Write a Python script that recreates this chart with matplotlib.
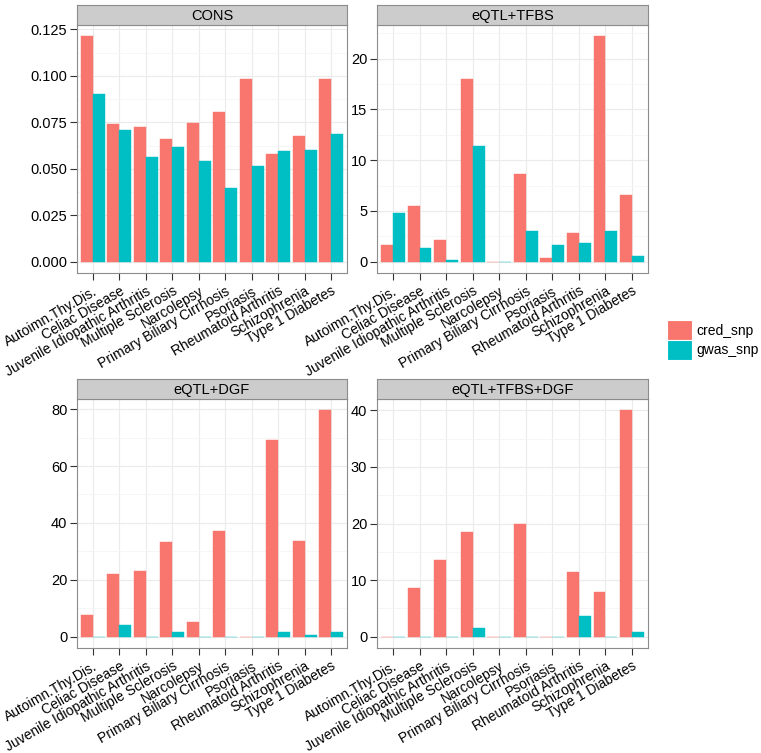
import matplotlib
matplotlib.use("Agg")
import matplotlib.pyplot as plt
import matplotlib.transforms as mtransforms
import numpy as np
from matplotlib.ticker import MultipleLocator
from matplotlib.patches import Patch

plt.rcParams['font.family'] = ['Liberation Sans', 'DejaVu Sans']

diseases = ["Autoimn.Thy.Dis.", "Celiac Disease", "Juvenile Idiopathic Arthritis",
            "Multiple Sclerosis", "Narcolepsy", "Primary Biliary Cirrhosis",
            "Psoriasis", "Rheumatoid Arthritis", "Schizophrenia", "Type 1 Diabetes"]
series = ["cred_snp", "gwas_snp"]
colors = ["#F8766D", "#00BFC4"]

cons_cred = [0.1213, 0.0739, 0.0723, 0.0662, 0.0744, 0.0807, 0.0983, 0.0577, 0.0678, 0.0985]
cons_gwas = [0.0905, 0.0709, 0.0561, 0.0618, 0.0543, 0.0397, 0.0516, 0.0598, 0.0602, 0.0689]

tfbs_cred = [1.67, 5.52, 2.12, 18.0, 0.0, 8.6, 0.36, 2.84, 22.2, 6.6]
tfbs_gwas = [4.84, 1.37, 0.13, 11.44, 0.0, 3.0, 1.6, 1.8, 3.0, 0.52]

dgf_cred = [7.7, 22.0, 23.2, 33.3, 5.3, 37.2, 0.0, 69.0, 33.6, 79.6]
dgf_gwas = [0.0, 4.1, 0.0, 1.5, 0.0, 0.0, 0.0, 1.5, 0.5, 1.6]

all_cred = [0.0, 8.66, 13.6, 18.56, 0.0, 19.9, 0.0, 11.5, 7.96, 40.0]
all_gwas = [0.0, 0.0, 0.0, 1.55, 0.0, 0.0, 0.0, 3.65, 0.0, 0.85]

panels = [
    ("CONS", cons_cred, cons_gwas, 0.025, "%.3f"),
    ("eQTL+TFBS", tfbs_cred, tfbs_gwas, 5, "%d"),
    ("eQTL+DGF", dgf_cred, dgf_gwas, 20, "%d"),
    ("eQTL+TFBS+DGF", all_cred, all_gwas, 10, "%d"),
]

W, H = 761, 753
fig = plt.figure(figsize=(W / 100, H / 100), dpi=100)

# pixel boxes: (x0, x1, strip_top, plot_top, plot_bottom)
boxes = [
    (77, 347, 5, 25, 273),
    (377, 648, 5, 25, 273),
    (77, 347, 379, 399, 648),
    (377, 648, 379, 399, 648),
]

border = "#8C8C8C"
x = np.arange(1, len(diseases) + 1)
bw = 0.45
shift = mtransforms.ScaledTranslation(5 / 100, -3 / 100, fig.dpi_scale_trans)

for (title, cred, gwas, step, fmt), (x0, x1, st, pt, pb) in zip(panels, boxes):
    ax = fig.add_axes([x0 / W, (H - pb) / H, (x1 - x0) / W, (pb - pt) / H])
    sax = fig.add_axes([x0 / W, (H - pt) / H, (x1 - x0) / W, (pt - st) / H])
    sax.set_facecolor("#CCCCCC")
    sax.set_xticks([]); sax.set_yticks([])
    for s in sax.spines.values():
        s.set_color(border); s.set_linewidth(0.8)
    sax.text(0.5, 0.45, title, ha="center", va="center", fontsize=10.5, transform=sax.transAxes)

    for i, vals in enumerate([cred, gwas]):
        ax.bar(x + (i - 0.5) * bw, vals, width=bw, color=colors[i],
               edgecolor=colors[i], linewidth=0.3, zorder=2,
               label=series[i])

    mx = max(max(cred), max(gwas))
    ax.set_ylim(-0.05 * mx, 1.05 * mx)
    ax.set_xlim(0.4, len(diseases) + 0.6)
    ax.yaxis.set_major_locator(MultipleLocator(step))
    ax.yaxis.set_minor_locator(MultipleLocator(step / 2))
    ax.yaxis.set_major_formatter(matplotlib.ticker.FormatStrFormatter(fmt))
    ax.set_xticks(x)
    ax.set_xticklabels(diseases, rotation=30, ha="right", va="top",
                       rotation_mode="anchor", fontsize=10)
    for lab in ax.get_xticklabels():
        lab.set_transform(lab.get_transform() + shift)
    ax.tick_params(axis="y", which="major", labelsize=10.5, length=5, width=0.8,
                   color="#333333", pad=2)
    ax.tick_params(axis="y", which="minor", length=0)
    ax.tick_params(axis="x", length=5, width=0.8, color="#333333", pad=3)
    ax.grid(True, which="major", color="#EBEBEB", linewidth=0.8, zorder=0)
    ax.grid(True, which="minor", axis="y", color="#F5F5F5", linewidth=0.6, zorder=0)
    ax.set_axisbelow(True)
    for s in ax.spines.values():
        s.set_color(border); s.set_linewidth(0.8)

# legend
handles = [Patch(facecolor=c, edgecolor="white", linewidth=0.8) for c in colors]
fig.legend(handles, series, loc="center left", bbox_to_anchor=(667 / W, 1 - 340 / H),
           frameon=False, fontsize=10, handlelength=1.8, handleheight=1.8,
           handletextpad=0.3, labelspacing=0.0, borderaxespad=0, borderpad=0)

fig.savefig("out.png", dpi=100)
